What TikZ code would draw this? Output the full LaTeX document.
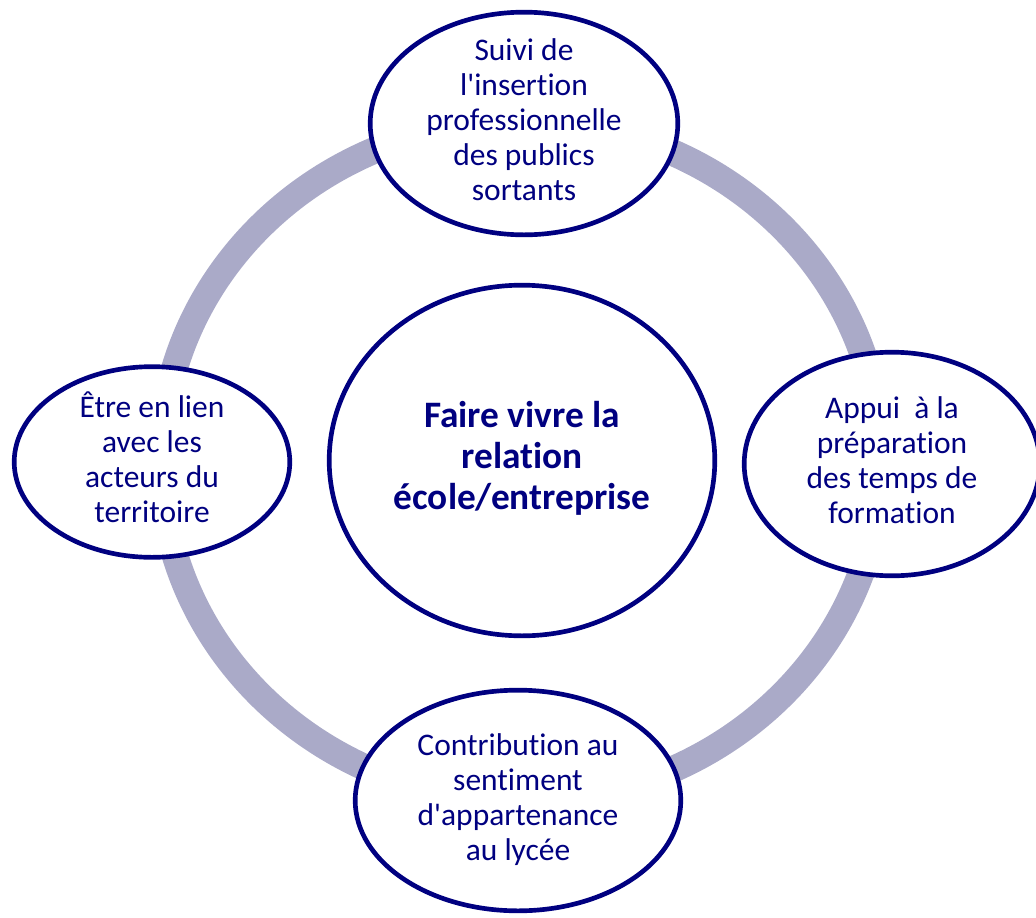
\documentclass[tikz,border=0pt]{standalone}
\usepackage{fontspec}
\setmainfont{Carlito}[Ligatures={NoCommon}]
\usetikzlibrary{shapes.geometric}
\definecolor{navytext}{RGB}{0,0,128}
\definecolor{ringgray}{RGB}{170,170,200}

\begin{document}
\begin{tikzpicture}[x=0.75pt,y=-0.75pt]
        \useasboundingbox (0,0) rectangle (1036,918);
        \tikzstyle{every node}=[ellipse, fill=white, draw=navytext, line width=3.5pt, inner sep=-12pt, text=navytext, font=\fontsize{23.6}{26.25}\selectfont]
        \tikzstyle{ring}=[ringgray, line width=20pt]

        % the ring behind the bubbles
        \draw[ring] (521,461) ellipse [x radius=270pt, y radius=255pt];

        \node (suivi) at (524,123.5) [minimum width=230.7pt, minimum height=167pt]
            {\begin{tabular}{c} Suivi de \\ l\textquotesingle insertion \\ professionnelle \\ des publics \\ sortants \end{tabular}};
        \node (lien) at (152,462) [minimum width=206.7pt, minimum height=143pt]
            {\begin{tabular}{c} Être en lien \\ avec les \\ acteurs du \\ territoire \end{tabular}};
        \node (appui) at (892,464) [minimum width=221.7pt, minimum height=167.7pt]
            {\begin{tabular}{c} Appui~ à la \\ préparation \\ des temps de \\ formation \end{tabular}};
        \node (contrib) at (518,800.5) [minimum width=244.2pt, minimum height=165.5pt]
            {\begin{tabular}{c} Contribution au \\ sentiment \\ d\textquotesingle appartenance \\ au lycée \end{tabular}};
        \node (relation) at (522,460.5) [minimum width=289.2pt, minimum height=263pt, font=\fontsize{28}{30.75}\selectfont\bfseries]
            {\begin{tabular}{c} Faire vivre la \\ relation \\ école/entreprise \end{tabular}};
\end{tikzpicture}
\end{document}
